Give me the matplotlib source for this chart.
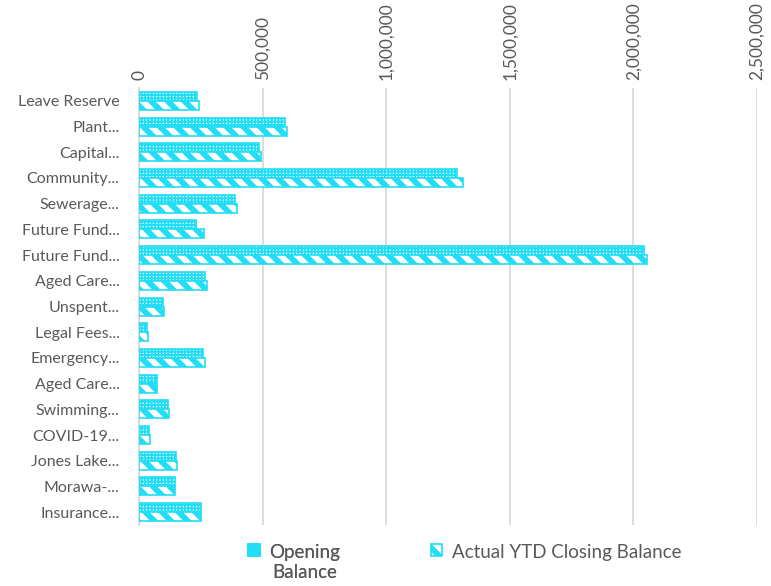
import numpy as np
import matplotlib
matplotlib.use('Agg')
from matplotlib import pyplot as plt
from matplotlib.ticker import FuncFormatter

categories = ['Leave Reserve', 'Plant...', 'Capital...', 'Community...', 'Sewerage...',
              'Future Fund...', 'Future Fund...', 'Aged Care...', 'Unspent...', 'Legal Fees...',
              'Emergency...', 'Aged Care...', 'Swimming...', 'COVID-19...', 'Jones Lake...',
              'Morawa-...', 'Insurance...']
opening = [235000, 590000, 487000, 1285000, 388000, 230000, 2042000, 268000, 98000, 34000,
           258000, 71000, 116000, 41000, 148000, 146000, 249000]
closing = [242000, 600000, 495000, 1310000, 396000, 261000, 2055000, 276000, 102000, 38000,
           265000, 72000, 121000, 44000, 154000, 147000, 251000]

cyan = '#21DDF5'
grey = '#595959'
plt.rcParams['font.family'] = ['Lato', 'DejaVu Sans']
plt.rcParams['hatch.color'] = cyan

fig = plt.figure(figsize=(7.71, 5.86), dpi=100)
ax = fig.add_axes([0.1803, 0.1041, 0.8015, 0.7457])

y = np.arange(len(categories))
h = 0.35
plt.rcParams['hatch.linewidth'] = 1.4
b1 = ax.barh(y - h / 2, opening, height=h, color='white', edgecolor=cyan, hatch='+++++',
             linewidth=1.2, label='Opening\nBalance', zorder=3)
plt.rcParams['hatch.linewidth'] = 4.2
b2 = ax.barh(y + h / 2, closing, height=h, color='white', edgecolor=cyan, hatch='\\\\',
             linewidth=1.2, label='Actual YTD Closing Balance', zorder=3)

ax.set_xlim(0, 2500000)
ax.set_ylim(len(categories) - 0.5, -0.5)
ax.set_xticks(np.arange(0, 2500001, 500000))
ax.xaxis.set_major_formatter(FuncFormatter(lambda v, p: f'{int(v):,}'))
ax.xaxis.tick_top()
ax.tick_params(axis='x', length=0, pad=6, labelsize=12.5, colors=grey, labelrotation=90)
ax.set_yticks(y)
ax.set_yticklabels(categories)
ax.tick_params(axis='y', length=0, pad=14, labelsize=11.5, colors=grey)
ax.grid(axis='x', color='#D9D9D9', linewidth=1.3, zorder=0)
for s in ['top', 'right', 'bottom']:
    ax.spines[s].set_visible(False)
ax.spines['left'].set_color('#D9D9D9')
ax.spines['left'].set_linewidth(1.3)

leg1 = fig.legend(handles=[b1], loc='upper left', bbox_to_anchor=(0.322, 0.072), frameon=False,
                  fontsize=13.5, handlelength=0.6, handleheight=0.6, handletextpad=0.5,
                  borderpad=0, borderaxespad=0)
leg2 = fig.legend(handles=[b2], loc='upper left', bbox_to_anchor=(0.559, 0.072), frameon=False,
                  fontsize=13.5, handlelength=0.6, handleheight=0.6, handletextpad=0.5,
                  borderpad=0, borderaxespad=0)
fig.add_artist(leg1)
for leg in (leg1, leg2):
    for t in leg.get_texts():
        t.set_color(grey)
        t.set_multialignment('center')
    for col in leg._legend_handle_box.get_children():
        for item in col.get_children():
            item.align = 'top'

fig.savefig('out.png', dpi=100)
